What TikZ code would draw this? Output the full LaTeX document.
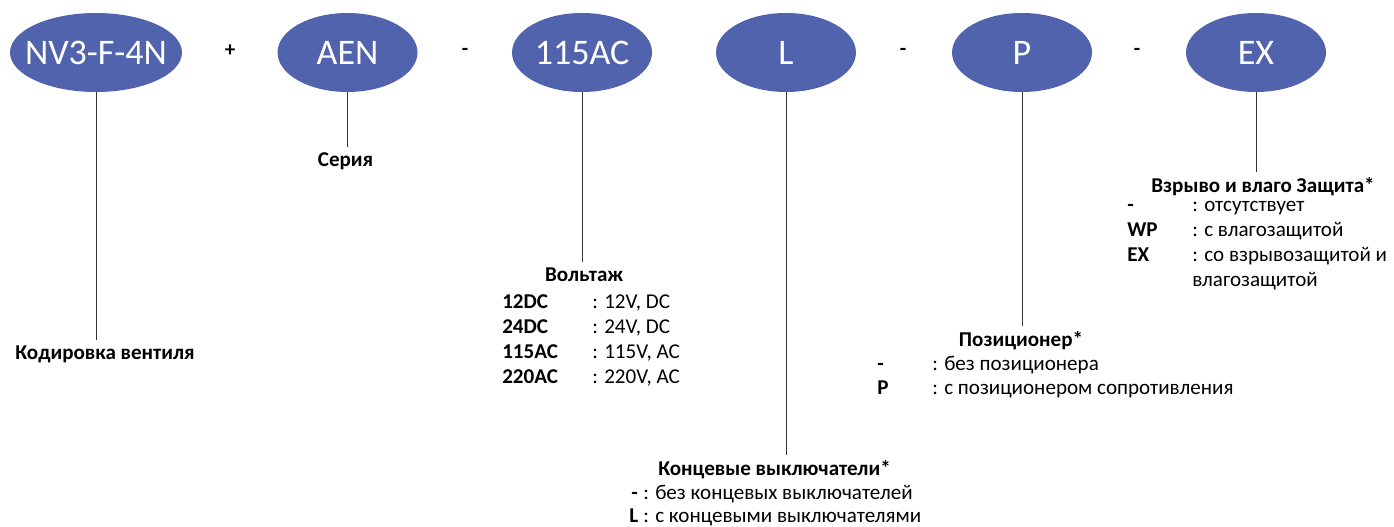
\documentclass[tikz,border=0pt]{standalone}
\usepackage{fontspec}
\setmainfont{Carlito}
\usetikzlibrary{shapes.geometric,positioning}
\definecolor{codeblue}{RGB}{80,99,172}

\begin{document}
\begin{tikzpicture}[x=0.75pt, y=-0.75pt,
        font=\fontsize{15.8}{19}\selectfont,
        code/.style={ellipse, fill=codeblue, inner sep=0pt, minimum width=105pt, minimum height=59.25pt},
        codetxt/.style={text=white, inner sep=0pt, font=\fontsize{27}{30}\selectfont},
        head/.style={font=\fontsize{15.8}{19}\selectfont\bfseries, anchor=base, inner sep=4pt},
        key/.style={font=\fontsize{15.8}{19}\selectfont\bfseries, anchor=base west, inner sep=0pt},
        val/.style={anchor=base west, inner sep=0pt},
        sep/.style={font=\fontsize{15.8}{19}\selectfont\bfseries, anchor=base, inner sep=0pt},
        leader/.style={draw=black!80, line width=0.75pt}]
        \useasboundingbox (0,0) rectangle (1394,527);

        % code fields
        \node[code, minimum width=129pt, label={[codetxt]center:NV3-F-4N}] (nv) at (96,52.5) {};
        \node[code, label={[codetxt]center:AEN}] (aen) at (347.5,52.5) {};
        \node[code, label={[codetxt]center:115AC}] (volt) at (582,52.5) {};
        \node[code, label={[codetxt]center:L}] (lim) at (786,52.5) {};
        \node[code, label={[codetxt]center:P}] (pos) at (1022,52.5) {};
        \node[code, label={[codetxt]center:EX}] (ex) at (1256,52.5) {};

        % separators
        \node[sep] (plus) at (230,57) {+};
        \node[sep] (dashA) at (465,56) {-};
        \node[sep] (dashB) at (903,56) {-};
        \node[sep] (dashC) at (1137,56) {-};

        % valve code
        \node[head] (nvLbl) at (105,359) {Кодировка вентиля};
        \draw[leader] (nv.south) -- (nv.south |- nvLbl.north);

        % series
        \node[head] (aenLbl) at (345.5,166.5) {Серия};
        \draw[leader] (aen.south) -- (aen.south |- aenLbl.north);

        % voltage
        \node[head] (voltLbl) at (584,281) {Вольтаж};
        \draw[leader] (volt.south) -- (volt.south |- voltLbl.north);
        \node[key] (voltKa) at (502,308.5) {12DC};
        \node[val] (voltVa) at (592,308.5) {: 12V, DC};
        \node[key] (voltKb) at (502,333.5) {24DC};
        \node[val] (voltVb) at (592,333.5) {: 24V, DC};
        \node[key] (voltKc) at (502,358.5) {115AC};
        \node[val] (voltVc) at (592,358.5) {: 115V, AC};
        \node[key] (voltKd) at (502,383.5) {220AC};
        \node[val] (voltVd) at (592,383.5) {: 220V, AC};

        % limit switches
        \node[head] (limLbl) at (774.5,475.5) {Концевые выключатели*};
        \draw[leader] (lim.south) -- (lim.south |- limLbl.north);
        \node[key] (limKa) at (631,499.5) {-};
        \node[val] (limVa) at (643,499.5) {: без концевых выключателей};
        \node[key] (limKb) at (629,522.5) {L};
        \node[val] (limVb) at (643,522.5) {: с концевыми выключателями};

        % positioner
        \node[head] (posLbl) at (1021,346.5) {Позиционер*};
        \draw[leader] (pos.south) -- (pos.south |- posLbl.north);
        \node[key] (posKa) at (877,370) {-};
        \node[val] (posVa) at (932,370) {: без позиционера};
        \node[key] (posKb) at (877,394) {P};
        \node[val] (posVb) at (932,394) {: с позиционером сопротивления};

        % protection
        \node[head] (exLbl) at (1263,193) {Взрыво и влаго Защита*};
        \draw[leader] (ex.south) -- (ex.south |- exLbl.north);
        \node[key] (exKa) at (1127,212) {-};
        \node[val] (exVa) at (1192,212) {: отсутствует};
        \node[key] (exKb) at (1127,237) {WP};
        \node[val] (exVb) at (1192,237) {: с влагозащитой};
        \node[key] (exKc) at (1127,261.5) {EX};
        \node[val] (exVc) at (1192,261.5) {: со взрывозащитой и};
        \node[val] (exVd) at (1192,286) {влагозащитой};
    \end{tikzpicture}
\end{document}
